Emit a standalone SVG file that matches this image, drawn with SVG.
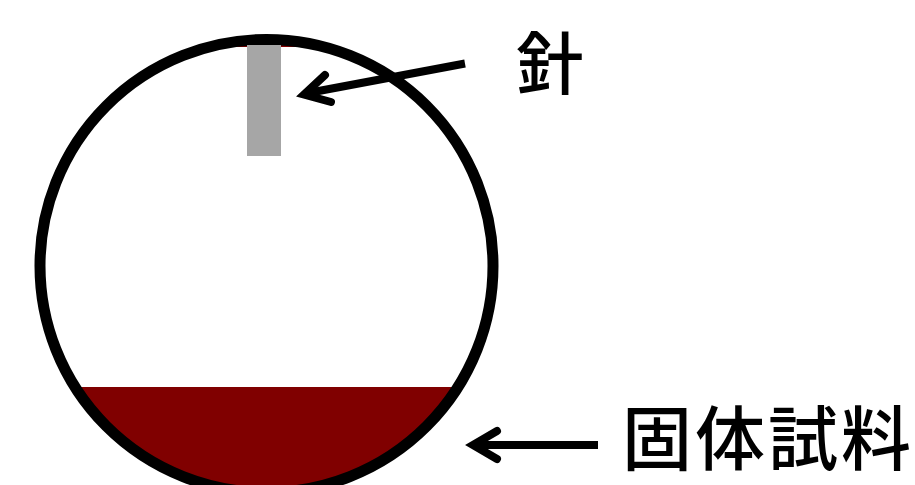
<svg xmlns="http://www.w3.org/2000/svg" width="915" height="485" viewBox="0 0 915 485">
<style>
.lbl{font-family:"Noto Sans CJK JP","Noto Sans CJK SC",sans-serif;fill:#000;font-weight:500}
.arrow{fill:none;stroke:#000;stroke-width:8}
.head{stroke-linecap:round;stroke-linejoin:miter}
</style>
<rect width="915" height="485" fill="#fff"/>
<defs><clipPath id="inner"><circle cx="266.500" cy="266" r="228"/></clipPath></defs>
<g id="sample"><g clip-path="url(#inner)">
<rect x="30" y="387" width="480" height="110" fill="#800000"/>
<rect x="30" y="30" width="480" height="17" fill="#800000"/>
</g></g>
<g id="vessel"><circle cx="266.500" cy="266" r="226.500" fill="none" stroke="#000" stroke-width="11"/></g>
<g id="needle"><rect x="247" y="45" width="34" height="111" fill="#a6a6a6"/></g>
<g id="connectors">
<path class="arrow" d="M465 63.500L308 93"/>
<path class="arrow head" d="M325 75L304 94.500L331 102"/>
<path class="arrow" d="M598 445H476"/>
<path class="arrow head" d="M497 431L473 445L497 459"/>
</g>
<g id="label-needle"><text class="lbl" x="516" y="89" font-size="68">針</text></g>
<g id="label-sample"><text class="lbl" x="622" y="464.500" font-size="70" letter-spacing="3">固体試料</text></g>
</svg>
